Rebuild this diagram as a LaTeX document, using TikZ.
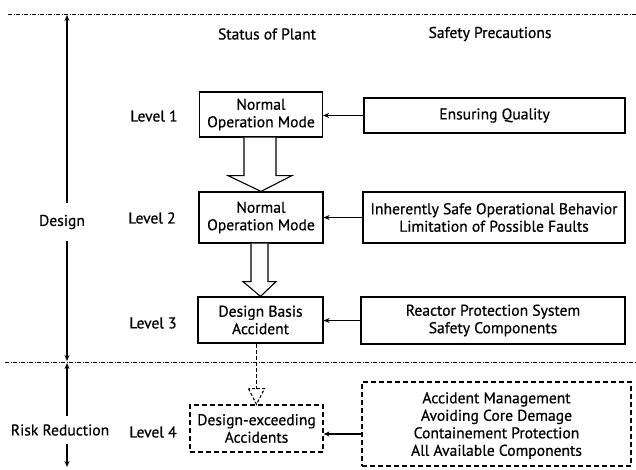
\documentclass[tikz,border=0pt]{standalone}
\usepackage{fontspec}
\setmainfont{PT Sans}[FakeBold=0.6]
\usetikzlibrary{arrows.meta,calc}
\begin{document}
\begin{tikzpicture}[x=1pt,y=-1pt,
  txt/.style={font=\fontsize{15.6}{17.5}\selectfont, align=center, inner sep=0pt},
  box/.style={txt, draw, line width=1.2pt},
  dbox/.style={box, dash pattern=on 5pt off 3pt},
  hollow/.style={draw, line width=1.1pt, fill=white, line join=miter},
  arr/.style={line width=1.1pt, -{Stealth[length=6pt,width=5pt]}},
  ddline/.style={line width=0.7pt, dash pattern=on 4pt off 1.5pt on 1pt off 1.5pt}]
\useasboundingbox (0,0) rectangle (636,470);

% separator lines
\coordinate (topL) at (8,14);
\coordinate (topR) at (636,14);
\coordinate (midL) at (5,362);
\coordinate (midR) at (636,362);
\draw[ddline] (topL) -- (topR);
\draw[ddline] (midL) -- (midR);

% headers
\node[txt] (h1) at (267,34) {Status of Plant};
\node[txt] (h2) at (490,34) {Safety Precautions};

% left axis
\coordinate (axT) at (67,15);
\coordinate (axM) at (67,362);
\coordinate (axB) at (67,467);
\node[txt, inner ysep=12pt] (design) at (62,222) {Design};
\node[txt, inner ysep=8pt] (risk) at (60,430) {Risk Reduction};
\draw[arr] (axT |- design.north) -- (axT);
\draw[arr] (axT |- design.south) -- ([yshift=1pt]axM);
\draw[arr] (axM |- risk.north) -- ([yshift=-1pt]axM);
\draw[arr] (axM |- risk.south) -- (axB);

% level labels
\node[txt] (l1) at (154,116) {Level 1};
\node[txt] (l2) at (152,218) {Level 2};
\node[txt] (l3) at (153,323) {Level 3};
\node[txt] (l4) at (153,432) {Level 4};

% plant status boxes
\node[box, minimum width=123pt, minimum height=45pt] (B1) at (261,114.5) {Normal\\Operation Mode};
\node[box, minimum width=124pt, minimum height=51pt] (B2) at (261,217.5) {Normal\\Operation Mode};
\node[box, minimum width=125pt, minimum height=46pt] (B3) at (260.5,320) {Design Basis\\Accident};
\node[dbox, minimum width=133pt, minimum height=47pt] (B4) at (256.5,428.5) {Design-exceeding\\Accidents};

% precaution boxes
\node[box, minimum width=261pt, minimum height=35pt] (R1) at (494.5,115.5) {Ensuring Quality};
\node[box, minimum width=262pt, minimum height=51pt] (R2) at (494,217.5) {Inherently Safe Operational Behavior\\Limitation of Possible Faults};
\node[box, minimum width=264pt, minimum height=47pt] (R3) at (493,320.5) {Reactor Protection System\\Safety Components};
\node[dbox, minimum width=269pt, minimum height=84pt, text depth=0pt] (R4) at (496.5,424) {Accident Management\\Avoiding Core Demage\\Containement Protection\\All Available Components};

% feedback arrows
\draw[arr] (R1.west) -- (R1.west -| B1.east);
\draw[arr] (R2.west) -- (R2.west -| B2.east);
\draw[arr] (R3.west) -- (R3.west -| B3.east);
\draw[arr] ([yshift=-10pt]R4.west) -- ([yshift=-10pt]R4.west -| B4.east);

% hollow block arrows
\draw[hollow] ($(B1.south)+(-17,0)$) -- ($(B1.south)+(-17,38)$) -- ($(B1.south)+(-33,38)$)
  -- (B2.north) -- ($(B1.south)+(31,38)$) -- ($(B1.south)+(15,38)$) -- ($(B1.south)+(15,0)$);
\draw[hollow] ($(B2.south)+(-10,0)$) -- ($(B2.south)+(-10,38)$) -- ($(B2.south)+(-18,38)$)
  -- (B3.north) -- ($(B2.south)+(15,38)$) -- ($(B2.south)+(7,38)$) -- ($(B2.south)+(7,0)$);

% dashed arrow to level 4
\coordinate (d0) at (B3.south -| B4.north);
\draw[line width=1.3pt, dash pattern=on 4pt off 2pt] (d0) -- ($(d0)+(0,45)$);
\draw[line width=1.1pt, dash pattern=on 3pt off 2pt, line join=miter] ($(d0)+(-8,45)$) -- (B4.north) -- ($(d0)+(8,45)$) -- cycle;
\end{tikzpicture}
\end{document}
